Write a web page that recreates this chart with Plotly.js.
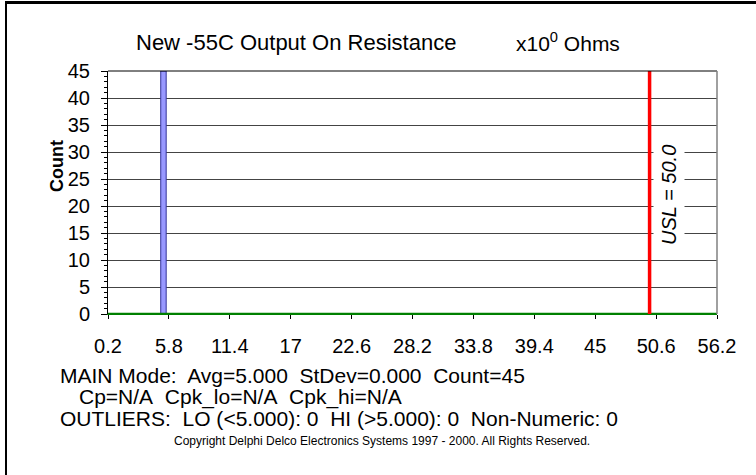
<!DOCTYPE html>
<html>
<head>
<meta charset="utf-8">
<script src="https://cdn.plot.ly/plotly-3.0.1.min.js"></script>
<style>
html,body{margin:0;padding:0;background:#fff;}
#wrap{position:relative;width:756px;height:475px;overflow:hidden;}
#chart{position:absolute;left:0;top:0;width:756px;height:475px;}
#frame{position:absolute;left:5px;top:1px;width:751px;height:474px;border-top:3px solid #000;border-left:2px solid #000;box-sizing:border-box;pointer-events:none;}
</style>
</head>
<body>
<div id="wrap"><div id="chart"></div><div id="frame"></div></div>
<script>
// ---- data ----
const binCenters = [5.3];
const binCounts = [45];
const binWidth = [0.5];
const fitX = [0.2, 56.2];
const fitY = [0, 0];
const uslValue = 50.0;
const xTickVals = [0.2, 5.8, 11.4, 17, 22.6, 28.2, 33.8, 39.4, 45, 50.6, 56.2];
const xTickText = ["0.2", "5.8", "11.4", "17", "22.6", "28.2", "33.8", "39.4", "45", "50.6", "56.2"];
const yTickVals = [0, 5, 10, 15, 20, 25, 30, 35, 40, 45];
const titleText = "New -55C Output On Resistance";
const unitText = "x10<sup>0</sup> Ohms";
const statLines = [
  "MAIN Mode:\u00A0 Avg=5.000\u00A0 StDev=0.000\u00A0 Count=45",
  "Cp=N/A\u00A0 Cpk_lo=N/A\u00A0 Cpk_hi=N/A",
  "OUTLIERS:\u00A0 LO (<5.000): 0\u00A0 HI (>5.000): 0\u00A0 Non-Numeric: 0"
];
const copyrightText = "Copyright Delphi Delco Electronics Systems 1997 - 2000. All Rights Reserved.";

// ---- geometry helpers (plot area in px) ----
const W = 756, H = 475;
const L = 108, R = 717, T = 71, B = 314;
const px = x => (x - L) / (R - L);
const py = y => (B - y) / (B - T);

const FONT = "Liberation Sans, Arial, sans-serif";

const traces = [
  {type: 'bar', x: binCenters, y: binCounts, width: binWidth,
   marker: {color: '#9999ff', line: {color: '#333399', width: 1}},
   hoverinfo: 'skip', showlegend: false},
  {type: 'scatter', mode: 'lines', x: fitX, y: fitY,
   line: {color: '#008000', width: 2.5}, hoverinfo: 'skip', showlegend: false},
  {type: 'scatter', mode: 'lines', x: [uslValue, uslValue], y: [0, yTickVals[yTickVals.length-1]],
   line: {color: '#ff0000', width: 3.5}, hoverinfo: 'skip', showlegend: false}
];

const annotations = [
  {text: titleText, xref: 'paper', yref: 'paper', x: px(134), y: py(42), xanchor: 'left', yanchor: 'middle',
   showarrow: false, font: {family: FONT, size: 22, color: '#000'}},
  {text: unitText, xref: 'paper', yref: 'paper', x: px(514), y: py(42), xanchor: 'left', yanchor: 'middle',
   showarrow: false, font: {family: FONT, size: 21, color: '#000'}},
  {text: 'Count', xref: 'paper', yref: 'paper', x: px(57), y: py(166), xanchor: 'center', yanchor: 'middle',
   textangle: -90, showarrow: false, font: {family: FONT, size: 18, color: '#000', weight: 'bold'}},
  {text: 'USL = ' + uslValue.toFixed(1), xref: 'paper', yref: 'paper', x: px(669), y: py(195), xanchor: 'center', yanchor: 'middle',
   textangle: -90, showarrow: false, bgcolor: '#ffffff', borderpad: 4,
   font: {family: FONT, size: 20, color: '#000', style: 'italic'}},
  {text: statLines[0], xref: 'paper', yref: 'paper', x: px(58), y: py(375), xanchor: 'left', yanchor: 'middle',
   showarrow: false, font: {family: FONT, size: 21, color: '#000'}},
  {text: statLines[1], xref: 'paper', yref: 'paper', x: px(77), y: py(397), xanchor: 'left', yanchor: 'middle',
   showarrow: false, font: {family: FONT, size: 21, color: '#000'}},
  {text: statLines[2], xref: 'paper', yref: 'paper', x: px(58), y: py(418), xanchor: 'left', yanchor: 'middle',
   showarrow: false, font: {family: FONT, size: 21, color: '#000'}},
  {text: copyrightText, xref: 'paper', yref: 'paper', x: px(382), y: py(441), xanchor: 'center', yanchor: 'middle',
   showarrow: false, font: {family: FONT, size: 12, color: '#000'}}
];

const shapes = [
  {type: 'line', xref: 'paper', yref: 'paper', x0: 0, x1: 1, y0: 1, y1: 1, line: {color: '#000', width: 1}},
  {type: 'line', xref: 'paper', yref: 'paper', x0: 1, x1: 1, y0: 0, y1: 1, line: {color: '#808080', width: 1.5}}
];

const layout = {
  width: W, height: H,
  margin: {l: L, r: W - R, t: T, b: H - B, pad: 0},
  paper_bgcolor: '#fff', plot_bgcolor: '#fff',
  showlegend: false,
  bargap: 0,
  font: {family: FONT, color: '#000'},
  xaxis: {range: [xTickVals[0], xTickVals[xTickVals.length-1]], tickmode: 'array', tickvals: xTickVals, ticktext: xTickText,
          ticks: 'outside', ticklen: 4, tickcolor: '#000', tickwidth: 1, showgrid: false, zeroline: false,
          showline: true, linecolor: '#008000', linewidth: 1,
          ticklabelstandoff: 10, tickfont: {family: FONT, size: 20, color: '#000'}, fixedrange: true},
  xaxis2: {range: [xTickVals[0], xTickVals[xTickVals.length-1]], tickmode: 'array', tickvals: xTickVals,
           overlaying: 'x', anchor: 'y', side: 'bottom', ticks: 'inside', ticklen: 6, tickcolor: '#000',
           showticklabels: false, showgrid: false, zeroline: false, showline: false},
  yaxis: {range: [0, 45], tickmode: 'array', tickvals: yTickVals, ticks: 'outside', ticklen: 6, tickcolor: '#000',
          showgrid: true, gridcolor: '#444444', gridwidth: 1, zeroline: false,
          showline: true, linecolor: '#000', linewidth: 1,
          minor: {dtick: 1, tick0: 0, ticks: 'outside', ticklen: 3, tickcolor: '#000', showgrid: false},
          ticklabelstandoff: 7, tickfont: {family: FONT, size: 20, color: '#000'}, fixedrange: true},
  annotations: annotations,
  shapes: shapes
};

Plotly.newPlot('chart', traces, layout, {staticPlot: true, displayModeBar: false});
</script>
</body>
</html>
